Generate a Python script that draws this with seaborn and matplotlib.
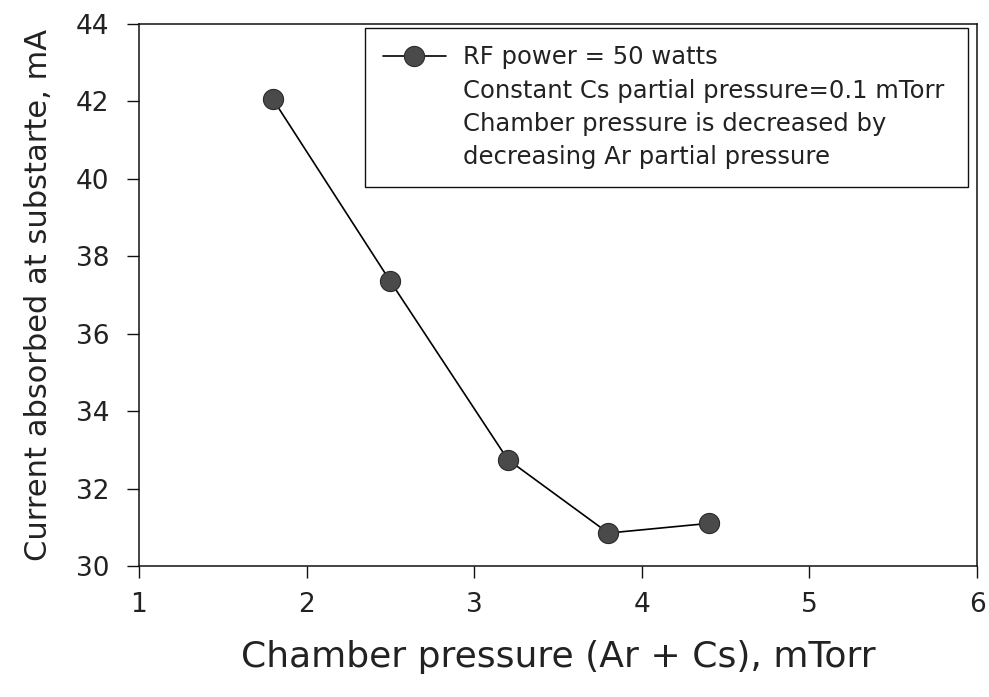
import matplotlib
matplotlib.use("Agg")
import matplotlib.pyplot as plt
import seaborn as sns
import pandas as pd
from matplotlib.lines import Line2D

pressure = [1.8, 2.5, 3.2, 3.8, 4.4]
current = [42.05, 37.35, 32.75, 30.85, 31.1]
legend_lines = ["RF power = 50 watts",
                "Constant Cs partial pressure=0.1 mTorr",
                "Chamber pressure is decreased by",
                "decreasing Ar partial pressure"]
x_ticks = [1, 2, 3, 4, 5, 6]
y_ticks = [30, 32, 34, 36, 38, 40, 42, 44]

sns.set_theme(style="white")
plt.rcParams['font.family'] = ['DejaVu Sans']

df = pd.DataFrame({"pressure": pressure, "current": current})

fig = plt.figure(figsize=(9.89, 6.97), dpi=100)
ax = fig.add_axes([0.1405, 0.188, 0.8475, 0.7776])

sns.lineplot(data=df, x="pressure", y="current", ax=ax, color="black",
             linewidth=1.2, marker="o", markersize=14.5,
             markerfacecolor="#4a4a4a", markeredgecolor="#2a2a2a",
             markeredgewidth=0.8, label=legend_lines[0])

ax.set_xlim(1, 6)
ax.set_ylim(30, 44)
ax.set_xticks(x_ticks)
ax.set_yticks(y_ticks)
ax.tick_params(axis="both", which="major", direction="out", length=8.5,
               width=1.0, colors="#111111", labelsize=19, bottom=True, left=True,
               top=False, right=False)
ax.tick_params(axis="y", pad=13)
ax.tick_params(axis="x", pad=10)
for lab in ax.get_xticklabels() + ax.get_yticklabels():
    lab.set_color("#222222")

for s in ax.spines.values():
    s.set_color("#111111")
    s.set_linewidth(1.1)

ax.set_xlabel("Chamber pressure (Ar + Cs), mTorr", fontsize=26, color="#222222", labelpad=16)
ax.set_ylabel("Current absorbed at substarte, mA", fontsize=22, color="#222222", labelpad=16)

handles = [ax.get_lines()[0]] + [Line2D([], [], color="none") for _ in legend_lines[1:]]
leg = ax.legend(handles, legend_lines, loc="upper left",
                bbox_to_anchor=(0.2697, 0.9926, 0.7196, 0.0), mode="expand",
                fontsize=17.5, frameon=True,
                fancybox=False, edgecolor="#111111", framealpha=1,
                handlelength=2.6, handletextpad=0.7, labelspacing=0.38,
                borderpad=0.72, borderaxespad=0)
leg.get_frame().set_linewidth(1.0)
for t in leg.get_texts():
    t.set_color("#222222")

fig.savefig("out.png", dpi=100)
